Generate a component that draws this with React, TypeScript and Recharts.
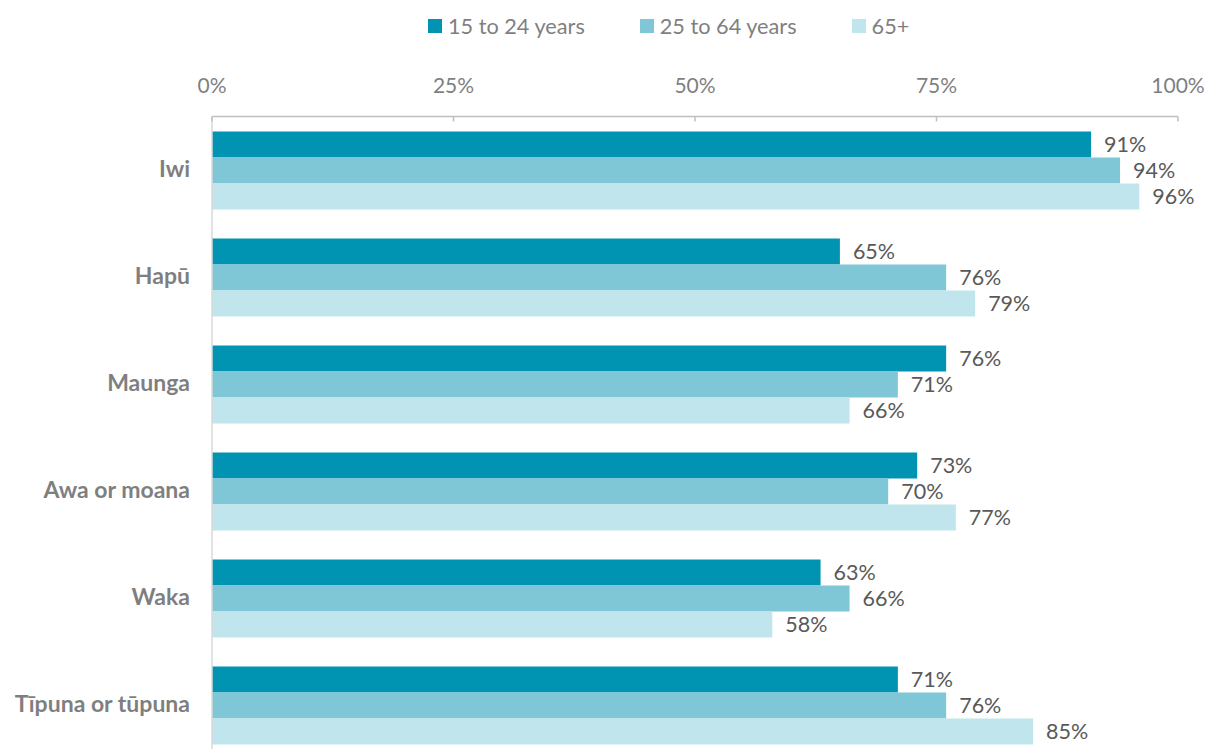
import { BarChart, Bar, XAxis, YAxis, LabelList } from 'recharts';

const categories = ['Iwi', 'Hapū', 'Maunga', 'Awa or moana', 'Waka', 'Tīpuna or tūpuna'];
const youth = [91, 65, 76, 73, 63, 71];
const adults = [94, 76, 71, 70, 66, 76];
const seniors = [96, 79, 66, 77, 58, 85];
const seriesNames = ['15 to 24 years', '25 to 64 years', '65+'];
const seriesColors = ['#0093b2', '#7fc7d7', '#c0e5ec'];
const xTicks = [0, 25, 50, 75, 100];

const FONT = 'Lato, "Open Sans", sans-serif';

const data = categories.map((name, i) => ({
  name,
  youth: youth[i],
  adults: adults[i],
  seniors: seniors[i],
}));

const seriesKeys = ['youth', 'adults', 'seniors'];

// tick labels above the axis, small tick marks hanging below it
function TopTick(props: any) {
  const { x, y, payload } = props;
  return (
    <g>
      <text x={x} y={y} textAnchor="middle" dy={7} fill="#7f7f7f" fontSize={21} fontFamily={FONT}>
        {payload.value}%
      </text>
      <line x1={x} x2={x} y1={y + 31} y2={y + 36} stroke="#bfbfbf" strokeWidth={1.5} />
    </g>
  );
}

function CategoryTick(props: any) {
  const { x, y, payload } = props;
  return (
    <text x={x} y={y} dy={7} textAnchor="end" fill="#7f7f7f" fontSize={23} fontWeight={700} fontFamily={FONT}>
      {payload.value}
    </text>
  );
}

export default function App() {
  return (
    <div
      style={{
        position: 'absolute',
        left: 0,
        top: 0,
        width: 1208,
        height: 749,
        overflow: 'hidden',
        background: '#fff',
        fontFamily: FONT,
      }}
    >
      {/* legend */}
      <div
        style={{
          position: 'absolute',
          top: 13,
          left: 428,
          display: 'flex',
          alignItems: 'center',
          fontSize: 21.7,
          color: '#7f7f7f',
        }}
      >
        {seriesNames.map((s, i) => (
          <div key={s} style={{ display: 'flex', alignItems: 'center', marginRight: 55 }}>
            <div style={{ width: 14, height: 14, background: seriesColors[i], marginRight: 6 }} />
            <span>{s}</span>
          </div>
        ))}
      </div>

      <BarChart
        width={1208}
        height={760}
        data={data}
        layout="vertical"
        margin={{ top: 56.5, right: 30, left: 0, bottom: 1.5 }}
        barCategoryGap={15}
        barGap={0}
      >
        <XAxis
          type="number"
          orientation="top"
          domain={[0, 100]}
          ticks={xTicks}
          height={60}
          axisLine={{ stroke: '#bfbfbf', strokeWidth: 1.5 }}
          tickLine={false}
          tickSize={0}
          tickMargin={31}
          tick={<TopTick />}
          interval={0}
        />
        <YAxis
          type="category"
          dataKey="name"
          width={212}
          axisLine={{ stroke: '#d9d9d9', strokeWidth: 1.5 }}
          tickLine={false}
          tickSize={0}
          tickMargin={22}
          tick={<CategoryTick />}
          interval={0}
        />
        {seriesKeys.map((k, i) => (
          <Bar key={k} dataKey={k} name={seriesNames[i]} fill={seriesColors[i]} isAnimationActive={false}>
            <LabelList
              dataKey={k}
              position="right"
              offset={13}
              formatter={(v: any) => `${v}%`}
              fill="#595959"
              fontSize={21.5}
              fontFamily={FONT}
            />
          </Bar>
        ))}
      </BarChart>
    </div>
  );
}
